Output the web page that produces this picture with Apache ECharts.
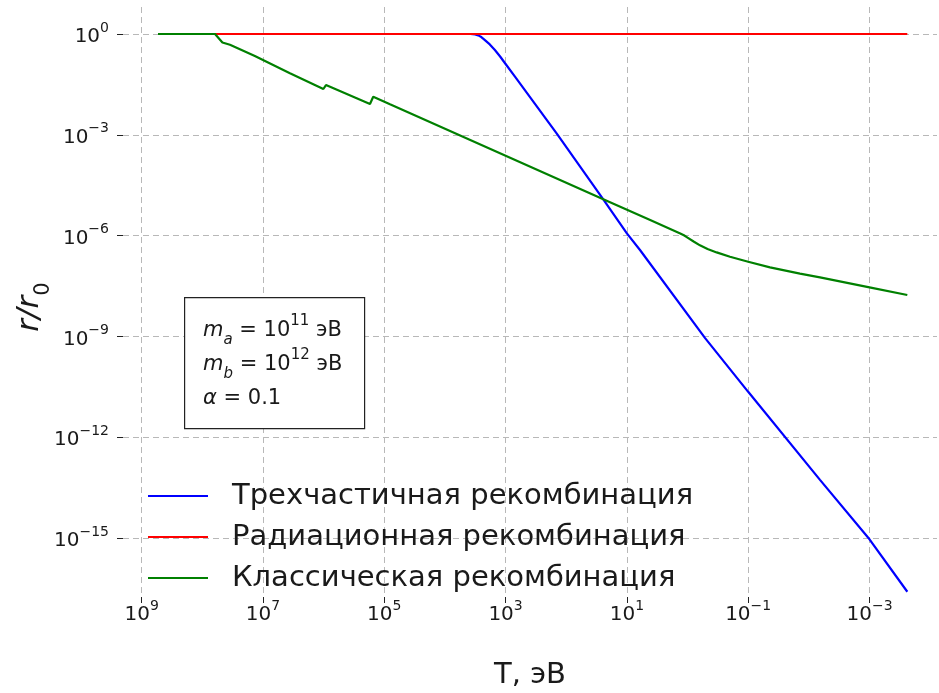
<!DOCTYPE html>
<html>
<head>
<meta charset="utf-8">
<script src="https://cdn.jsdelivr.net/npm/echarts@6/dist/echarts.min.js"></script>
<style>
  html, body { margin: 0; padding: 0; background: #fff; }
  #chart { width: 939px; height: 693px; }
</style>
</head>
<body>
<div id="chart"></div>
<script>
// Series names (legend order)
const seriesNames = ['Трехчастичная рекомбинация', 'Радиационная рекомбинация', 'Классическая рекомбинация'];
const seriesColors = ['#0000ff', '#ff0000', '#008000'];

// Three-body recombination: temperature T (eV) and r/r0
const threeBodyT = [5.37e8, 3.80e3, 3.18e3, 2.82e3, 2.51e3, 2.19e3, 1.82e3, 1.50e3, 1.23e3, 1.02e3, 7.0e2, 1.44e2, 24.5, 10, 6.08, 0.513, 0.1, 6.55e-3, 1e-3, 2.38e-4];
const threeBodyR = [1, 1, 0.977, 0.912, 0.813, 0.661, 0.490, 0.334, 0.214, 0.135, 5.37e-2, 1.11e-3, 1.20e-5, 1.17e-6, 3.72e-7, 8.91e-10, 2.24e-11, 5.37e-14, 9.12e-16, 2.51e-17];

// Radiative recombination
const radiativeT = [5.37e8, 2.38e-4];
const radiativeR = [1, 1];

// Classical recombination
const classicalT = [5.37e8, 6.17e7, 4.66e7, 3.50e7, 1.36e7, 3.59e6, 1.01e6, 9.14e5, 1.72e5, 1.52e5, 8.05e4, 24.5, 4.13, 1.318, 1.148, 1.0, 0.794, 0.624, 0.468, 0.331, 0.1995, 0.1, 0.0437, 0.014, 6.55e-3, 1e-3, 2.38e-4];
const classicalR = [1, 1, 0.558, 0.481, 0.221, 0.0676, 0.0231, 0.0303, 8.26e-3, 1.36e-2, 8.09e-3, 1.20e-5, 2.89e-6, 1.16e-6, 1.023e-6, 8.71e-7, 6.68e-7, 5.13e-7, 3.98e-7, 3.16e-7, 2.34e-7, 1.66e-7, 1.135e-7, 7.41e-8, 5.69e-8, 2.89e-8, 1.71e-8];

// Tick positions
const xTicks = [1e9, 1e7, 1e5, 1e3, 1e1, 1e-1, 1e-3];
const yTicks = [1, 1e-3, 1e-6, 1e-9, 1e-12, 1e-15];

const FONT = 'DejaVu Sans';
const TEXT = '#1a1a1a';
const zip = (xs, ys) => xs.map((x, i) => [x, ys[i]]);

function powLabel(v) {
  const e = Math.round(Math.log10(v));
  const s = e < 0 ? '\u2212' + Math.abs(e) : String(e);
  return '{b|10}{s|' + s + '}';
}
const powRich = {
  b: { fontFamily: FONT, fontSize: 20, color: TEXT, lineHeight: 26, verticalAlign: 'bottom' },
  s: { fontFamily: FONT, fontSize: 14, color: TEXT, lineHeight: 26, verticalAlign: 'top' }
};

const chart = echarts.init(document.getElementById('chart'), null, { renderer: 'canvas' });

chart.setOption({
  animation: false,
  backgroundColor: '#fff',
  grid: { left: 123, right: 2, top: 7, bottom: 96, containLabel: false, outerBoundsMode: 'none' },
  xAxis: {
    type: 'log',
    inverse: true,
    min: 7.71e-5,
    max: 2.03e9,
    name: 'T, эВ',
    nameLocation: 'middle',
    nameGap: 64,
    nameMoveOverlap: false,
    nameTextStyle: { fontFamily: FONT, fontSize: 29, color: TEXT },
    axisLine: { show: false },
    axisTick: { show: true, length: 6, customValues: xTicks, lineStyle: { color: '#222', width: 1 } },
    axisLabel: { customValues: xTicks, margin: 2, formatter: powLabel, rich: powRich },
    splitLine: { show: true, lineStyle: { color: '#b8b8b8', width: 1, type: [6, 4] } },
    minorTick: { show: false }
  },
  yAxis: {
    type: 'log',
    min: 1.75e-17,
    max: 6.37,
    name: '{i|r/r}{sub|0}',
    nameLocation: 'middle',
    nameRotate: 90,
    nameGap: 69,
    nameMoveOverlap: false,
    nameTextStyle: {
      padding: [0, 10, 0, 0],
      rich: {
        i: { fontFamily: FONT, fontStyle: 'italic', fontSize: 31, color: TEXT, lineHeight: 40, verticalAlign: 'top' },
        sub: { fontFamily: FONT, fontSize: 21, color: TEXT, lineHeight: 40, verticalAlign: 'bottom' }
      }
    },
    axisLine: { show: false },
    axisTick: { show: true, length: 6, customValues: yTicks, lineStyle: { color: '#222', width: 1 } },
    axisLabel: { customValues: yTicks, margin: 14, formatter: powLabel, rich: powRich },
    splitLine: { show: true, lineStyle: { color: '#b8b8b8', width: 1, type: [6, 4] } }
  },
  legend: {
    orient: 'vertical',
    left: 143,
    top: 475,
    icon: 'rect',
    itemWidth: 60,
    itemHeight: 2,
    itemGap: 9,
    textStyle: { fontFamily: FONT, fontSize: 29, color: TEXT, lineHeight: 32, padding: [0, 0, 0, 19] },
    data: seriesNames
  },
  series: [
    { name: seriesNames[0], type: 'line', symbol: 'none', data: zip(threeBodyT, threeBodyR), lineStyle: { width: 2.2, color: seriesColors[0] }, itemStyle: { color: seriesColors[0] } },
    { name: seriesNames[1], type: 'line', symbol: 'none', data: zip(radiativeT, radiativeR), lineStyle: { width: 2.2, color: seriesColors[1] }, itemStyle: { color: seriesColors[1] } },
    { name: seriesNames[2], type: 'line', symbol: 'none', data: zip(classicalT, classicalR), lineStyle: { width: 2.2, color: seriesColors[2] }, itemStyle: { color: seriesColors[2] } }
  ],
  graphic: [
    {
      type: 'rect',
      left: 184, top: 297,
      shape: { width: 180, height: 131 },
      style: { fill: '#fff', stroke: '#222', lineWidth: 1.2 },
      z: 10
    },
    {
      type: 'text',
      left: 203, top: 314,
      z: 11,
      style: {
        text: '{m|m}{sub|a}{t| = 10}{sup|11}{t| эВ}\n{m|m}{sub|b}{t| = 10}{sup|12}{t| эВ}\n{m|α}{t| = 0.1}',
        rich: {
          m: { fontFamily: FONT, fontStyle: 'italic', fontSize: 21, lineHeight: 34, fill: TEXT, verticalAlign: 'middle' },
          t: { fontFamily: FONT, fontSize: 21, lineHeight: 34, fill: TEXT, verticalAlign: 'middle' },
          sub: { fontFamily: FONT, fontStyle: 'italic', fontSize: 15, lineHeight: 34, fill: TEXT, verticalAlign: 'bottom' },
          sup: { fontFamily: FONT, fontSize: 15, lineHeight: 34, fill: TEXT, verticalAlign: 'top' }
        }
      }
    }
  ]
});
</script>
</body>
</html>
